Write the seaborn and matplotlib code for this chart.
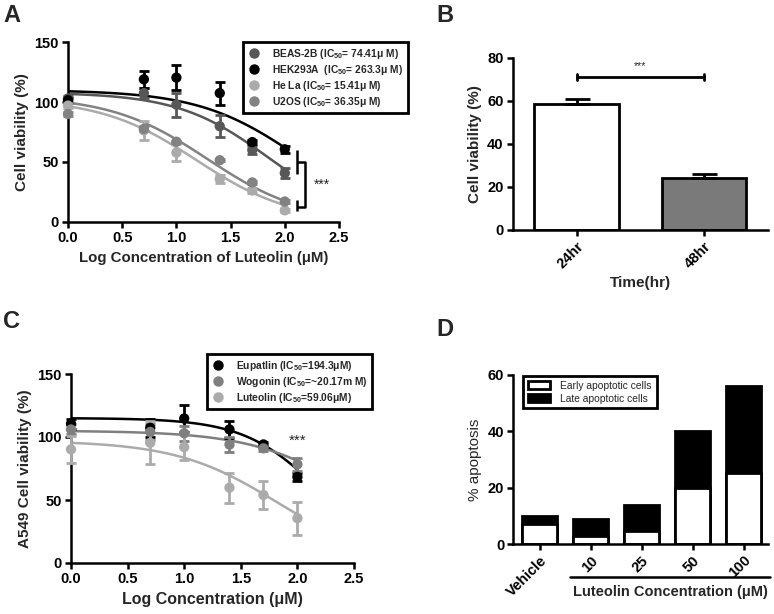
import numpy as np
import pandas as pd
import matplotlib
matplotlib.use("Agg")
import matplotlib.pyplot as plt
from matplotlib.lines import Line2D
from matplotlib.patches import Patch
import seaborn as sns

# ----------------------------
# data
# ----------------------------
log_conc = [0.0, 0.7, 1.0, 1.4, 1.7, 2.0]

# panel A: cell lines
a_names = ["BEAS-2B", "HEK293A", "HeLa", "U2OS"]
a_labels = [
    r"BEAS-2B (IC$_{\mathbf{50}}$= 74.41μ M)",
    r"HEK293A  (IC$_{\mathbf{50}}$= 263.3μ M)",
    r"He La (IC$_{\mathbf{50}}$= 15.41μ M)",
    r"U2OS (IC$_{\mathbf{50}}$= 36.35μ M)",
]
a_colors = ["#575757", "#000000", "#ababab", "#828282"]
beas_mean = [103, 107.4, 97.8, 79.8, 60.0, 40.8]
beas_err = [2, 4, 10, 9, 3, 4]
hek_mean = [101.5, 118.9, 120.3, 107.4, 66.6, 60.6]
hek_err = [2, 7, 10.5, 9.5, 2, 3]
hela_mean = [97, 76.3, 57.8, 35.8, 26.2, 9.7]
hela_err = [2, 8, 7, 3, 2, 1]
u2os_mean = [90, 77.6, 66.9, 51.5, 33.0, 17.1]
u2os_err = [2, 2, 1, 1, 1, 1]
# fitted dose-response parameters (top, logIC50, hill), bottom = 0
a_top = [108, 110, 103, 105]
a_logic50 = [1.844, 2.117, 1.186, 1.286]
a_hill = [1.04, 0.947, 0.983, 0.975]

# panel B
b_time = ["24hr", "48hr"]
b_mean = [58.5, 24.3]
b_err = [2.3, 1.5]

# panel C: compounds in A549
c_names = ["Eupatlin", "Wogonin", "Luteolin"]
c_labels = [
    r"Eupatlin (IC$_{\mathbf{50}}$=194.3μM)",
    r"Wogonin (IC$_{\mathbf{50}}$=~20.17m M)",
    r"Luteolin (IC$_{\mathbf{50}}$=59.06μM)",
]
c_colors = ["#000000", "#7f7f7f", "#ababab"]
eup_mean = [110.5, 107.3, 114.7, 106.0, 94.1, 68.3]
eup_err = [4, 7, 11, 6.5, 2, 3]
wog_mean = [106.0, 104.0, 103.0, 94.0, 91.0, 78.3]
wog_err = [4, 6, 6, 6, 2, 5]
lut_mean = [90.2, 95.4, 92.0, 59.8, 54.0, 35.6]
lut_err = [10.5, 17, 10, 12, 11, 13]
c_top = [115, 105, 97]
c_logic50 = [2.2, 2.557, 1.815]
c_hill = [1.29, 0.95, 0.97]

# panel D
d_groups = ["Vehicle", "10", "25", "50", "100"]
d_early = [7.2, 3.1, 4.6, 20.1, 25.3]
d_late = [2.8, 5.9, 9.3, 20.2, 30.9]

# ----------------------------
sns.set_theme(style="ticks")
plt.rcParams["font.family"] = ["Liberation Sans", "DejaVu Sans"]
plt.rcParams["font.weight"] = "bold"
plt.rcParams["axes.labelweight"] = "bold"
plt.rcParams["mathtext.fontset"] = "custom"
plt.rcParams["mathtext.rm"] = "Liberation Sans"
plt.rcParams["mathtext.bf"] = "Liberation Sans:bold"

W, H = 774, 614
fig = plt.figure(figsize=(W / 100, H / 100), dpi=100)


def px_axes(left, top, right, bottom):
    return fig.add_axes([left / W, 1 - bottom / H, (right - left) / W, (bottom - top) / H])


def style_axes(ax):
    sns.despine(ax=ax)
    for s in ["left", "bottom"]:
        ax.spines[s].set_linewidth(1.8)
        ax.spines[s].set_color("black")
    ax.tick_params(direction="out", width=1.8, length=4, labelsize=10.5, colors="black", pad=2.5)
    for lab in ax.get_xticklabels() + ax.get_yticklabels():
        lab.set_fontweight("bold")


def hill_curve(top, logic50, hill):
    xs = np.linspace(0, 2, 120)
    return xs, top / (1 + 10 ** ((xs - logic50) * hill))


def dose_panel(ax, names, colors, means, errs, tops, logs, hills):
    rows = []
    for n, m, e in zip(names, means, errs):
        for x, mv, ev in zip(log_conc, m, e):
            rows.append({"x": x, "y": mv, "err": ev, "line": n})
    pts = pd.DataFrame(rows)
    curves = []
    for n, t, l, h in zip(names, tops, logs, hills):
        xs, ys = hill_curve(t, l, h)
        curves.append(pd.DataFrame({"x": xs, "y": ys, "line": n}))
    curves = pd.concat(curves)
    pal = dict(zip(names, colors))
    sns.lineplot(data=curves, x="x", y="y", hue="line", palette=pal, linewidth=1.8,
                 legend=False, ax=ax, zorder=2)
    for n in names:
        sub = pts[pts["line"] == n]
        ax.errorbar(sub["x"], sub["y"], yerr=sub["err"], fmt="none", ecolor=pal[n],
                    elinewidth=2, capsize=3.5, capthick=2, zorder=3, clip_on=False)
    sns.scatterplot(data=pts, x="x", y="y", hue="line", palette=pal, s=55,
                    edgecolor="none", legend=False, ax=ax, zorder=4, clip_on=False)
    ax.set_xlim(0, 2.5)
    ax.set_ylim(0, 150)
    ax.set_xticks([0, 0.5, 1.0, 1.5, 2.0, 2.5])
    ax.set_xticklabels(["0.0", "0.5", "1.0", "1.5", "2.0", "2.5"])
    ax.set_yticks([0, 50, 100, 150])


def dose_legend(ax, colors, labels, anchor):
    handles = [Line2D([], [], marker="o", linestyle="none", markersize=7.5,
                      markerfacecolor=c, markeredgecolor="none") for c in colors]
    leg = ax.legend(handles, labels, loc="upper left", bbox_to_anchor=anchor,
                    frameon=True, fancybox=False, edgecolor="black", framealpha=1,
                    prop={"size": 7.4, "weight": "bold"}, handlelength=1.2,
                    handletextpad=1.2, labelspacing=0.2, borderpad=0.45,
                    borderaxespad=0)
    leg.get_frame().set_linewidth(2)
    leg.set_zorder(10)


# ----------------------------
# A) dose response, cell lines
# ----------------------------
axA = px_axes(68, 42, 339, 222)
dose_panel(axA, a_names, a_colors,
           [beas_mean, hek_mean, hela_mean, u2os_mean],
           [beas_err, hek_err, hela_err, u2os_err], a_top, a_logic50, a_hill)
axA.set_xlabel("Log Concentration of Luteolin (μM)", fontsize=10.8, labelpad=4)
axA.set_ylabel("Cell viability (%)", fontsize=11)
style_axes(axA)
dose_legend(axA, a_colors, a_labels, (0.646, 1.0))
# significance bracket
kw = dict(color="black", linewidth=1.8, clip_on=False, solid_capstyle="butt")
axA.plot([2.11, 2.11], [40, 60], **kw)
axA.plot([2.11, 2.11], [9, 18], **kw)
axA.plot([2.11, 2.19, 2.19, 2.11], [49.7, 49.7, 12.5, 12.5], **kw)
axA.text(2.34, 31, "***", fontsize=10, fontweight="normal", ha="center", va="center")
fig.text(12 / W, 1 - 15 / H, "A", fontsize=17, fontweight="bold", ha="center", va="center")

# ----------------------------
# B) viability over time
# ----------------------------
axB = px_axes(512.7, 57.7, 768, 230)
dfB = pd.DataFrame({"time": b_time, "mean": b_mean, "err": b_err})
sns.barplot(data=dfB, x="time", y="mean", hue="time", palette=["white", "#7a7a7a"],
            edgecolor="black", linewidth=2, width=0.66, legend=False, ax=axB)
axB.errorbar(range(len(b_time)), dfB["mean"], yerr=[[0] * len(b_err), b_err],
             fmt="none", ecolor="black", elinewidth=2, capsize=9, capthick=2)
axB.set_xlim(-0.5, 1.5)
axB.set_ylim(0, 80)
axB.set_yticks([0, 20, 40, 60, 80])
axB.set_xlabel("Time(hr)", fontsize=11)
axB.set_ylabel("Cell viability (%)", fontsize=11)
style_axes(axB)
for lab in axB.get_xticklabels():
    lab.set_rotation(45)
    lab.set_ha("right")
    lab.set_rotation_mode("anchor")
axB.plot([0, 1], [71.2, 71.2], color="black", linewidth=2)
axB.plot([0, 0], [69.8, 72.6], color="black", linewidth=2)
axB.plot([1, 1], [69.8, 72.6], color="black", linewidth=2)
axB.text(0.5, 76, "***", fontsize=7.5, fontweight="normal", ha="center", va="center")
fig.text(445 / W, 1 - 15 / H, "B", fontsize=17, fontweight="bold", ha="center", va="center")

# ----------------------------
# C) dose response, A549
# ----------------------------
axC = px_axes(71, 374, 354, 563)
dose_panel(axC, c_names, c_colors, [eup_mean, wog_mean, lut_mean],
           [eup_err, wog_err, lut_err], c_top, c_logic50, c_hill)
axC.set_xlabel("Log Concentration (μM)", fontsize=11.5, labelpad=4)
axC.set_ylabel("A549 Cell viability (%)", fontsize=11)
style_axes(axC)
dose_legend(axC, c_colors, c_labels, (0.48, 1.106))
axC.text(2.0, 97, "***", fontsize=11, fontweight="normal", ha="center", va="center")
fig.text(12 / W, 1 - 322 / H, "C", fontsize=17, fontweight="bold", ha="center", va="center")

# ----------------------------
# D) apoptosis, stacked bars
# ----------------------------
axD = px_axes(513.3, 375, 768, 544.3)
dfD = pd.DataFrame({"group": d_groups, "early": d_early, "late": d_late})
dfD["total"] = dfD["early"] + dfD["late"]
sns.barplot(data=dfD, x="group", y="total", color="black", edgecolor="black",
            linewidth=2, width=0.68, ax=axD, saturation=1)
sns.barplot(data=dfD, x="group", y="early", color="white", edgecolor="black",
            linewidth=2, width=0.68, ax=axD, saturation=1)
axD.set_xlim(-0.52, 4.48)
axD.set_ylim(0, 60)
axD.set_yticks([0, 20, 40, 60])
axD.set_xlabel("")
axD.set_ylabel("% apoptosis", fontsize=11, fontweight="normal")
style_axes(axD)
for lab in axD.get_xticklabels():
    lab.set_rotation(45)
    lab.set_ha("right")
    lab.set_rotation_mode("anchor")
axD.plot([0.223, 1.008], [-0.191, -0.191], transform=axD.transAxes, color="black",
         linewidth=1.8, clip_on=False)
axD.text(0.615, -0.28, "Luteolin Concentration (μM)", transform=axD.transAxes,
         fontsize=10.5, fontweight="bold", ha="center", va="center")
handles = [Patch(facecolor="white", edgecolor="black", linewidth=2),
           Patch(facecolor="black", edgecolor="black", linewidth=2)]
legD = axD.legend(handles, ["Early apoptotic cells", "Late apoptotic cells"],
                  loc="upper left", bbox_to_anchor=(0.038, 0.994), frameon=True,
                  fancybox=False, edgecolor="black", framealpha=1,
                  prop={"size": 7.4, "weight": "normal"}, handlelength=2.2,
                  handleheight=0.8, handletextpad=1.0, labelspacing=0.3,
                  borderpad=0.45, borderaxespad=0)
legD.get_frame().set_linewidth(2)
fig.text(445 / W, 1 - 330 / H, "D", fontsize=17, fontweight="bold", ha="center", va="center")

fig.savefig("out.png", dpi=100)
print("saved out.png")
